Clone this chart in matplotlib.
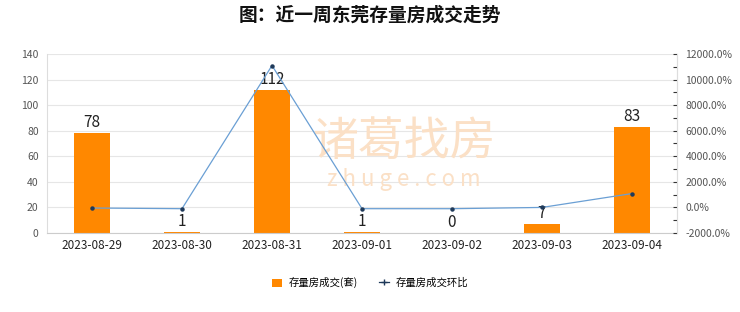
import matplotlib
matplotlib.use("Agg")
import matplotlib.pyplot as plt
from matplotlib.ticker import FuncFormatter, MultipleLocator
from matplotlib.lines import Line2D
from matplotlib.patches import Patch

plt.rcParams['font.family'] = ['Noto Sans CJK SC', 'DejaVu Sans']

dates = ["2023-08-29", "2023-08-30", "2023-08-31", "2023-09-01", "2023-09-02", "2023-09-03", "2023-09-04"]
deals = [78, 1, 112, 1, 0, 7, 83]
ratio = [-45.0, -98.7, 11100.0, -99.1, -100.0, 0.0, 1085.7]

fig = plt.figure(figsize=(7.4, 3.12), dpi=100)
ax = fig.add_axes([47/740, 1-233/312, 630/740, 179/312])
ax2 = ax.twinx()

# watermark (behind bars)
ax.text(0.567, 0.51, "诸葛找房", transform=ax.transAxes, fontsize=33, color='#fbe0c6',
        ha='center', va='center', zorder=1)
ax.text(0.567, 0.30, "z h u g e . c o m", transform=ax.transAxes, fontsize=16, color='#fbe0c6',
        ha='center', va='center', zorder=1)

x = list(range(len(dates)))
ax.bar(x, deals, width=0.4, color='#ff8800', zorder=2)
for xi, v in zip(x, deals):
    ax.text(xi, v + 1.5, str(v), ha='center', va='bottom', fontsize=11, color='#222222', zorder=5)

ax.set_xlim(-0.5, len(dates) - 0.5)
ax.set_ylim(0, 140)
ax.yaxis.set_major_locator(MultipleLocator(20))
ax.grid(axis='y', color='#e6e6e6', linewidth=0.8, zorder=0)
ax.set_axisbelow(True)
ax.set_xticks(x)
ax.set_xticklabels(dates)
ax.tick_params(axis='x', length=0, labelsize=8.5, colors='#222222', pad=4)
ax.tick_params(axis='y', length=0, labelsize=7.5, colors='#555555', pad=6)
ax.spines['top'].set_visible(False)
ax.spines['left'].set_color('#dddddd')
ax.spines['right'].set_color('#dddddd')
ax.spines['bottom'].set_color('#cccccc')

ax2.plot(x, ratio, color='#6a9fd4', linewidth=0.9, marker='o', markersize=2.2,
         markerfacecolor='#1f3a5a', markeredgecolor='#1f3a5a', zorder=4)
ax2.set_ylim(-2000, 12000)
ax2.yaxis.set_major_locator(MultipleLocator(2000))
ax2.yaxis.set_minor_locator(MultipleLocator(1000))
ax2.yaxis.set_major_formatter(FuncFormatter(lambda v, p: f"{v:.1f}%"))
ax2.tick_params(axis='y', which='both', direction='in', length=3, width=0.8, colors='#333333',
                labelsize=7.5, pad=6)
ax2.tick_params(axis='y', which='major', labelcolor='#555555')
for s in ['top', 'left', 'bottom']:
    ax2.spines[s].set_visible(False)
ax2.spines['right'].set_color('#dddddd')

fig.text(0.5, 0.95, "图：近一周东莞存量房成交走势", ha='center', va='center', fontsize=13.5,
         fontweight='bold', color='#111111')

handles = [Patch(facecolor='#ff8800', edgecolor='none'),
           Line2D([0], [0], color='#1f3a5a', linewidth=0.9, marker='+', markersize=4)]
fig.legend(handles, ["存量房成交(套)", "存量房成交环比"], loc='center', bbox_to_anchor=(0.5, 0.094),
           ncol=2, frameon=False, fontsize=7.5, handlelength=1.0, handleheight=0.8, columnspacing=2.0,
           handletextpad=0.6)

fig.savefig("out.png", dpi=100)
